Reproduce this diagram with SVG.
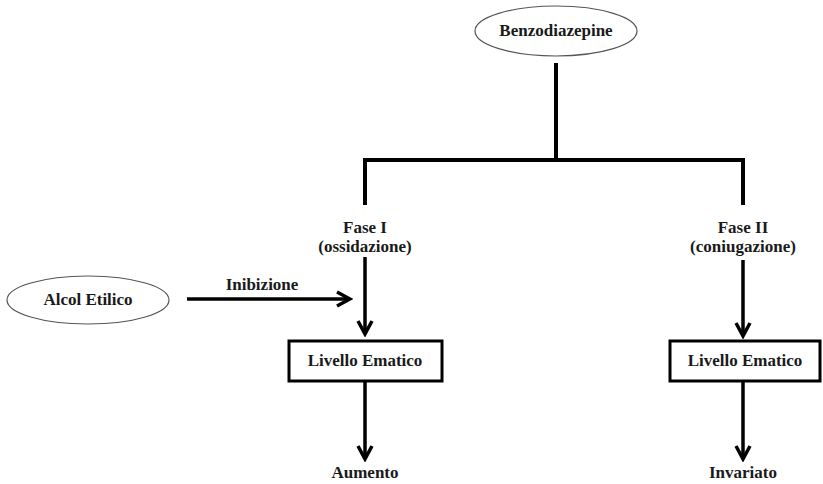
<svg xmlns="http://www.w3.org/2000/svg" width="823" height="484" viewBox="0 0 823 484">
<style>
text{font-family:"Liberation Serif","Times New Roman",serif;font-weight:bold;font-size:17px;fill:#1a1a1a;text-anchor:middle}
.ell{fill:#fff;stroke:#555;stroke-width:1.2}
.box{fill:#fff;stroke:#000;stroke-width:3}
.ln{fill:none;stroke:#000;stroke-width:4}
.ar{fill:none;stroke:#000;stroke-width:3.5}
</style>
<defs>
<marker id="ah" markerUnits="userSpaceOnUse" markerWidth="18" markerHeight="18" viewBox="0 0 18 18" refX="15" refY="9" orient="auto">
<path d="M2,2 L15,9 L2,16" fill="none" stroke="#000" stroke-width="3.5"/>
</marker>
</defs>
<rect width="823" height="484" fill="#fff"/>
<g id="connectors">
<path class="ln" d="M556,63 V160 M363,160 H745 M365,158 V205 M743,158 V205"/>
<line class="ar" x1="365" y1="257" x2="365" y2="334" marker-end="url(#ah)"/>
<line class="ar" x1="743" y1="260" x2="743" y2="336" marker-end="url(#ah)"/>
<line class="ar" x1="187" y1="299" x2="350" y2="299" marker-end="url(#ah)"/>
<line class="ar" x1="365" y1="382" x2="365" y2="459" marker-end="url(#ah)"/>
<line class="ar" x1="743" y1="382" x2="743" y2="459" marker-end="url(#ah)"/>
<text x="262" y="290">Inibizione</text>
</g>
<g id="benzodiazepine">
<ellipse class="ell" cx="556" cy="31" rx="81" ry="25"/>
<text x="556" y="36">Benzodiazepine</text>
</g>
<g id="fase1">
<text x="365" y="233">Fase I</text>
<text x="365" y="252">(ossidazione)</text>
</g>
<g id="fase2">
<text x="743" y="233">Fase II</text>
<text x="743" y="252">(coniugazione)</text>
</g>
<g id="alcol">
<ellipse class="ell" cx="88" cy="300" rx="81" ry="24"/>
<text x="88" y="305">Alcol Etilico</text>
</g>
<g id="livello1">
<rect class="box" x="289" y="341" width="153" height="40"/>
<text x="365" y="366">Livello Ematico</text>
</g>
<g id="livello2">
<rect class="box" x="670" y="341" width="150" height="40"/>
<text x="745" y="366">Livello Ematico</text>
</g>
<g id="aumento">
<text x="365" y="478">Aumento</text>
</g>
<g id="invariato">
<text x="743" y="478">Invariato</text>
</g>
</svg>
